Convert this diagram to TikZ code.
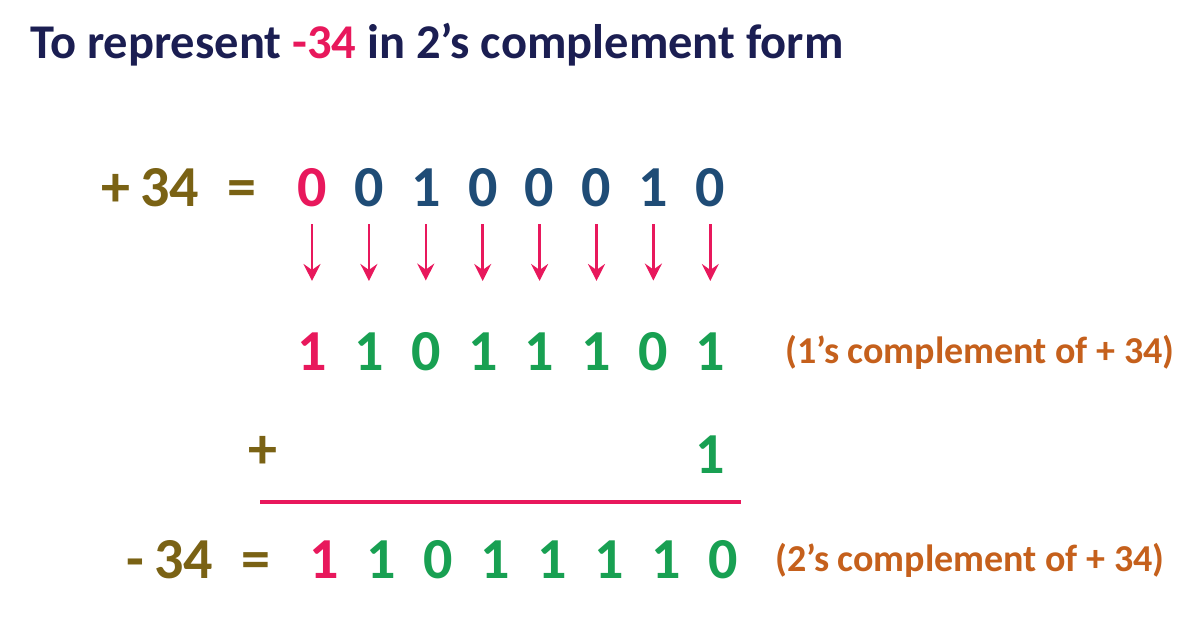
\documentclass[tikz,border=0pt]{standalone}
\usepackage{fontspec}
\setmainfont{Carlito}
\usetikzlibrary{arrows.meta}

\definecolor{titleblue}{RGB}{27,30,82}
\definecolor{signpink}{RGB}{232,24,92}
\definecolor{numolive}{RGB}{122,98,20}
\definecolor{bitblue}{RGB}{31,76,118}
\definecolor{bitgreen}{RGB}{24,160,82}
\definecolor{noteorange}{RGB}{197,96,28}

\begin{document}
\begin{tikzpicture}
[
    x=1pt, y=-1pt,
    every node/.style={inner sep=0pt, font=\bfseries},
    bit/.style={font=\fontsize{58}{60}\selectfont\bfseries},
    note/.style={anchor=west, text=noteorange, font=\fontsize{38}{40}\selectfont\bfseries},
    flip/.style={signpink, line width=2.6pt, -{Stealth[length=17pt, width=17pt, inset=6pt]},
        shorten <=17pt, shorten >=52pt},
]
\useasboundingbox (0,0) rectangle (1196,628);

% heading
\node [anchor=west, text=titleblue, font=\fontsize{48.5}{52}\selectfont\bfseries] (title) at (30,45)
{To represent \textcolor{signpink}{-34} in 2’s complement form};

% +34 and its bits
\node [bit, anchor=east, text=numolive] (pluseq) at (257,188) {+\,34\hspace{0.5em}=};
\foreach \b/\c [count=\i] in {0/signpink,0/bitblue,1/bitblue,0/bitblue,0/bitblue,0/bitblue,1/bitblue,0/bitblue}
    \node [bit, text=\c] (p\i) at ({312+56.9*(\i-1)},188) {\b};

% 1's complement
\foreach \b/\c [count=\i] in {1/signpink,1/bitgreen,0/bitgreen,1/bitgreen,1/bitgreen,1/bitgreen,0/bitgreen,1/bitgreen}
    \node [bit, text=\c] (c\i) at ({312+56.9*(\i-1)},352) {\b};
\node [note] (onesnote) at (785,352) {(1’s complement of + 34)};

\foreach \i in {1,...,8}
    \draw [flip] (p\i) -- (c\i);

% add one
\node [bit, text=numolive] (addplus) at (263,452) {+};
\node [bit, text=bitgreen] (addone) at (710,455) {1};
\coordinate (sumL) at (260,502);
\coordinate (sumR) at (741,502);
\draw [signpink, line width=3.4pt] (sumL) -- (sumR);

% -34 and its bits
\node [bit, anchor=east, text=numolive] (minuseq) at (271,560) {-\,34\hspace{0.5em}=};
\foreach \b/\c [count=\i] in {1/signpink,1/bitgreen,0/bitgreen,1/bitgreen,1/bitgreen,1/bitgreen,1/bitgreen,0/bitgreen}
    \node [bit, text=\c] (t\i) at ({324+57*(\i-1)},560) {\b};
\node [note] (twosnote) at (775,560) {(2’s complement of + 34)};
\end{tikzpicture}
\end{document}
